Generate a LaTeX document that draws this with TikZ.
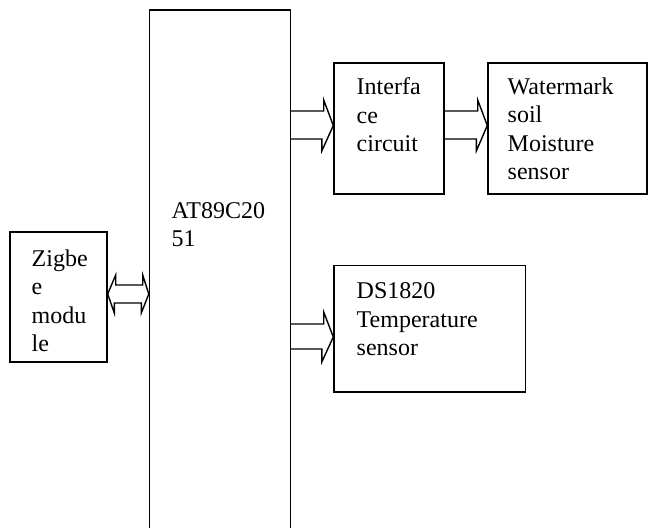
\documentclass[tikz,border=0pt]{standalone}
\usepackage{fontspec}
\setmainfont{Liberation Serif}
\usepackage{tikz}

\begin{document}
\begin{tikzpicture}[
            x = 0.5pt, y = -0.5pt, % pixel grid, y downwards
            line width = 0.7pt % line style
        ]

        \tikzstyle{block}=[
            draw = black,
            fill = white,
            inner sep = 0pt
        ]
        \tikzstyle{blocktext}=[
            anchor = base west, % base = last line
            align = left,
            inner sep = 0pt,
            font = \fontsize{12pt}{14.3pt}\selectfont
        ]

        \clip (0,0) rectangle (648,528);

        % boxes
        \node (mcu) [block, minimum width = 70.5pt, minimum height = 275pt] at (220,285) {};
        \node (zig) [block, minimum width = 48.5pt, minimum height = 65pt] at (58.5,297) {};
        \node (iface) [block, minimum width = 55pt, minimum height = 65.5pt] at (389,128.5) {};
        \node (water) [block, minimum width = 79.5pt, minimum height = 65.5pt] at (567.5,128.5) {};
        \node (ds) [block, minimum width = 95.75pt, minimum height = 63.25pt] at (429.75,328.75) {};

        % texts
        \node (mcutext) [blocktext] at (171,247) {AT89C20\\51};
        \node (zigtext) [blocktext] at (31,352) {Zigbe\\e\\modu\\le};
        \node (ifacetext) [blocktext] at (356,152) {Interfa\\ce\\circuit};
        \node (watertext) [blocktext] at (507,180) {Watermark\\soil\\Moisture\\sensor};
        \node (dstext) [blocktext] at (356,356) {DS1820\\Temperature\\sensor};

        % bus arrows
        \draw (zig.east |- 0,294) -- ++(8,-19) -- ++(0,10) -- ++(27,0) -- ++(0,-10)
            -- (mcu.west |- 0,294) -- ++(-7.5,19) -- ++(0,-10) -- ++(-27,0) -- ++(0,10) -- cycle;
        \draw (mcu.east |- 0,111) -- ++(32.5,0) -- ++(0,-11) -- (iface.west |- 0,125.5)
            -- ++(-11.5,25.5) -- ++(0,-12) -- (mcu.east |- 0,139);
        \draw (iface.east |- 0,111) -- ++(33,0) -- ++(0,-11) -- (water.west |- 0,125.5)
            -- ++(-11,25.5) -- ++(0,-12) -- (iface.east |- 0,139);
        \draw (mcu.east |- 0,324) -- ++(32.5,0) -- ++(0,-12) -- (ds.west |- 0,337)
            -- ++(-11.5,25) -- ++(0,-13) -- (mcu.east |- 0,349);

    \end{tikzpicture}
\end{document}
